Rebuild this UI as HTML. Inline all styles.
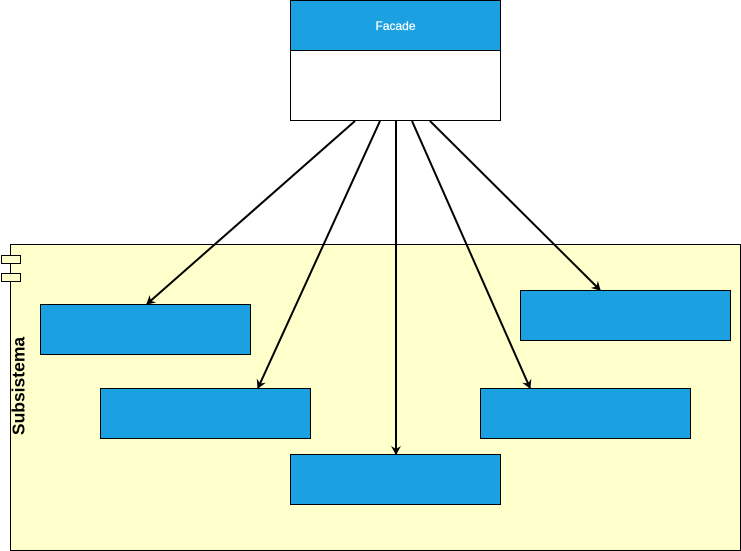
<!DOCTYPE html>
<html><head><style>body{margin:0;background:#fff}</style></head><body>
<svg width="741" height="551" xmlns="http://www.w3.org/2000/svg" style="display:block">
<defs><marker id="a" markerWidth="10" markerHeight="10" refX="8" refY="5" orient="auto" markerUnits="userSpaceOnUse"><path d="M0,0 L9,5 L0,10 L3,5 Z" fill="#000"/></marker></defs>
<rect x="10.5" y="244.5" width="730" height="306" fill="#ffffcc" stroke="#000"/>
<rect x="1.5" y="255.5" width="19" height="8" fill="#ffffcc" stroke="#000"/>
<rect x="1.5" y="273.5" width="19" height="8" fill="#ffffcc" stroke="#000"/>
<text transform="translate(24.5,386) rotate(-90)" text-anchor="middle" font-family="Liberation Sans, sans-serif" font-weight="bold" font-size="17.5">Subsistema</text>
<g fill="#1ba1e2" stroke="#000">
<rect x="40.5" y="304.5" width="210" height="50"/>
<rect x="100.5" y="388.5" width="210" height="50"/>
<rect x="290.5" y="454.5" width="210" height="50"/>
<rect x="480.5" y="388.5" width="210" height="50"/>
<rect x="520.5" y="290.5" width="210" height="50"/>
</g>
<rect x="290.5" y="0.5" width="210" height="120" fill="#fff" stroke="#000"/>
<rect x="290.5" y="0.5" width="210" height="50" fill="#1ba1e2" stroke="#000"/>
<text x="395.5" y="30" text-anchor="middle" font-family="Liberation Sans, sans-serif" font-size="12" fill="#fff" stroke="#fff" stroke-width="0.2">Facade</text>
<g stroke="#000" stroke-width="2" marker-end="url(#a)">
<line x1="355" y1="121" x2="147" y2="304"/>
<line x1="380" y1="121" x2="258" y2="388"/>
<line x1="396" y1="121" x2="396" y2="454"/>
<line x1="412" y1="121" x2="530" y2="388"/>
<line x1="430" y1="121" x2="600" y2="290"/>
</g>
</svg>
</body></html>
